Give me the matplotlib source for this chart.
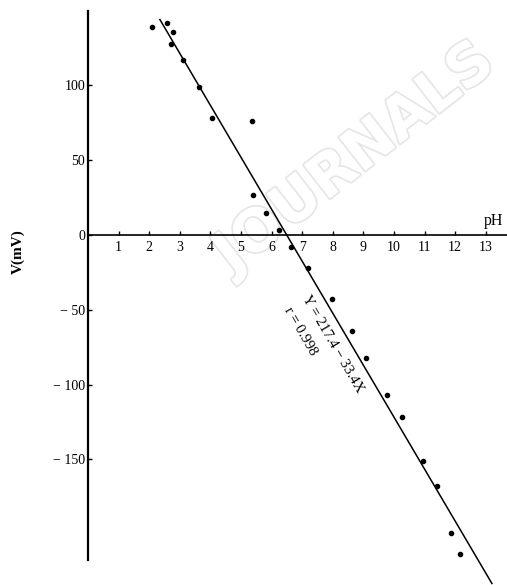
import matplotlib
matplotlib.use("Agg")
import matplotlib.pyplot as plt
import matplotlib.patheffects as pe

ph_vals = [2.09, 2.58, 2.78, 2.71, 3.10, 3.63, 4.05, 5.36, 5.39, 5.82, 6.24,
           6.63, 7.19, 7.97, 8.63, 9.08, 9.77, 10.26, 10.95, 11.41, 11.86, 12.16]
mv_vals = [139, 142, 136, 128, 117, 99, 78, 76, 27, 15, 3,
           -8, -22, -43, -64, -82, -107, -122, -151, -168, -199, -213]

# regression line as drawn in the figure (end points)
line_ph = [2.35, 13.2]
line_mv = [144, -233]

x_ticks = list(range(1, 14))
y_ticks = [100, 50, 0, -50, -100, -150]
y_tick_labels = ["100", "50", "0", "− 50", "− 100", "− 150"]

serif = "Liberation Serif"

fig = plt.figure(figsize=(5.07, 5.85), dpi=100)

# faint watermark behind the plot
fig.text(0.70, 0.73, "JOURNALS", fontsize=42, fontweight="bold", family="DejaVu Sans",
         rotation=38, color="white", ha="center", va="center", zorder=-1,
         path_effects=[pe.withStroke(linewidth=2.5, foreground="#e6e6e6")])

ax = fig.add_axes([88 / 507, 0, 1 - 88 / 507, 1 - 10 / 585])
ax.patch.set_alpha(0)
ax.set_xlim(0, 419 / 30.6)
ax.set_ylim(-234, 150.4)

ax.spines["right"].set_visible(False)
ax.spines["top"].set_visible(False)
ax.spines["left"].set_position(("data", 0))
ax.spines["bottom"].set_position(("data", 0))
ax.spines["left"].set_bounds(-217, 150)
ax.spines["left"].set_linewidth(1.6)
ax.spines["bottom"].set_linewidth(1.2)

ax.set_xticks(x_ticks)
ax.set_xticklabels([str(t) for t in x_ticks], family=serif, fontsize=10)
ax.set_yticks(y_ticks)
ax.set_yticklabels(y_tick_labels, family=serif, fontsize=10)
ax.tick_params(axis="x", direction="in", length=3, width=1, pad=4)
ax.tick_params(axis="y", direction="in", length=3, width=1, pad=2)

ax.plot(line_ph, line_mv, color="black", lw=1.1, clip_on=False)
ax.plot(ph_vals, mv_vals, "o", color="black", ms=3, clip_on=False)

ax.text(12.95, 4, "pH", family=serif, fontsize=11.5, ha="left", va="bottom")
fig.text(18 / 507, 1 - 252 / 585, "V(mV)", family=serif, fontsize=11, fontweight="bold",
         rotation=90, ha="center", va="center")

ax.text((333 - 88) / 30.6, (235 - 344) / 1.496, "Y = 217.4 − 33.4X", family=serif,
        fontsize=10.5, rotation=-60, rotation_mode="anchor", ha="center", va="center")
ax.text((300 - 88) / 30.6, (235 - 331) / 1.496, "r = 0.998", family=serif,
        fontsize=10.5, rotation=-60, rotation_mode="anchor", ha="center", va="center")

fig.savefig("out.png", dpi=100)
